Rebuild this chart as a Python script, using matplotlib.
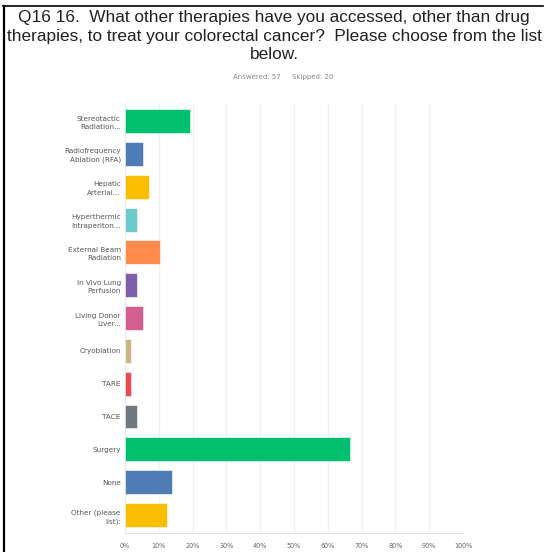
import matplotlib
import matplotlib.pyplot as plt

matplotlib.use("Agg")

categories = [
    "Stereotactic\nRadiation...",
    "Radiofrequency\nAblation (RFA)",
    "Hepatic\nArterial...",
    "Hyperthermic\nIntraperiton...",
    "External Beam\nRadiation",
    "In Vivo Lung\nPerfusion",
    "Living Donor\nLiver...",
    "Cryoblation",
    "TARE",
    "TACE",
    "Surgery",
    "None",
    "Other (please\nlist):",
]
percent = [19.3, 5.3, 7.0, 3.5, 10.5, 3.5, 5.3, 1.8, 1.8, 3.5, 66.7, 14.0, 12.3]
colors = [
    "#00BF6F", "#507CB6", "#F9BE00", "#6BC8CD", "#FF8B4F", "#7F5FA9",
    "#D25F90", "#C8B586", "#E74A55", "#707880", "#00BF6F", "#507CB6", "#F9BE00",
]
xticks = list(range(0, 101, 10))
xtick_labels = [f"{t}%" for t in xticks]

fig = plt.figure(figsize=(5.48, 5.52), dpi=100)
ax = fig.add_axes([0.228, 0.0344, 0.617, 0.779])

y = list(range(len(categories)))
ax.barh(y, percent, height=0.73, color=colors, edgecolor="#ffffff",
        linewidth=0.4, zorder=3)
ax.set_ylim(len(categories) - 0.45, -0.55)
ax.set_xlim(0, 100)
ax.set_xticks(xticks)
ax.set_xticklabels(xtick_labels, fontsize=4.7, color="#666666",
                   family="DejaVu Sans")
ax.set_yticks(y)
ax.set_yticklabels(categories, fontsize=5.2, color="#555555",
                   family="DejaVu Sans", linespacing=1.5)
ax.tick_params(axis="both", length=0, pad=3)
ax.tick_params(axis="x", pad=7)
ax.grid(axis="x", color="#f0f0f0", linewidth=1.0, zorder=0)
for side in ["top", "right"]:
    ax.spines[side].set_visible(False)
ax.spines["bottom"].set_color("#e0e0e0")
ax.spines["left"].set_color("#e8e8e8")

fig.text(0.5, 0.982,
         "Q16 16.  What other therapies have you accessed, other than drug\n"
         "therapies, to treat your colorectal cancer?  Please choose from the list\n"
         "below.",
         ha="center", va="top", fontsize=12.4, family="Liberation Sans",
         color="#222222", linespacing=1.3)
fig.text(0.516, 0.86, "Answered: 57     Skipped: 20", ha="center", va="center",
         fontsize=5, color="#888888", family="DejaVu Sans")

# frame lines left and top
fig.add_artist(plt.Line2D([0.007, 0.007], [0.0, 0.989], color="black",
                          linewidth=1.6, transform=fig.transFigure))
fig.add_artist(plt.Line2D([0.006, 0.991], [0.989, 0.989], color="black",
                          linewidth=1.2, transform=fig.transFigure))

fig.savefig("out.png", dpi=100)
plt.close(fig)
